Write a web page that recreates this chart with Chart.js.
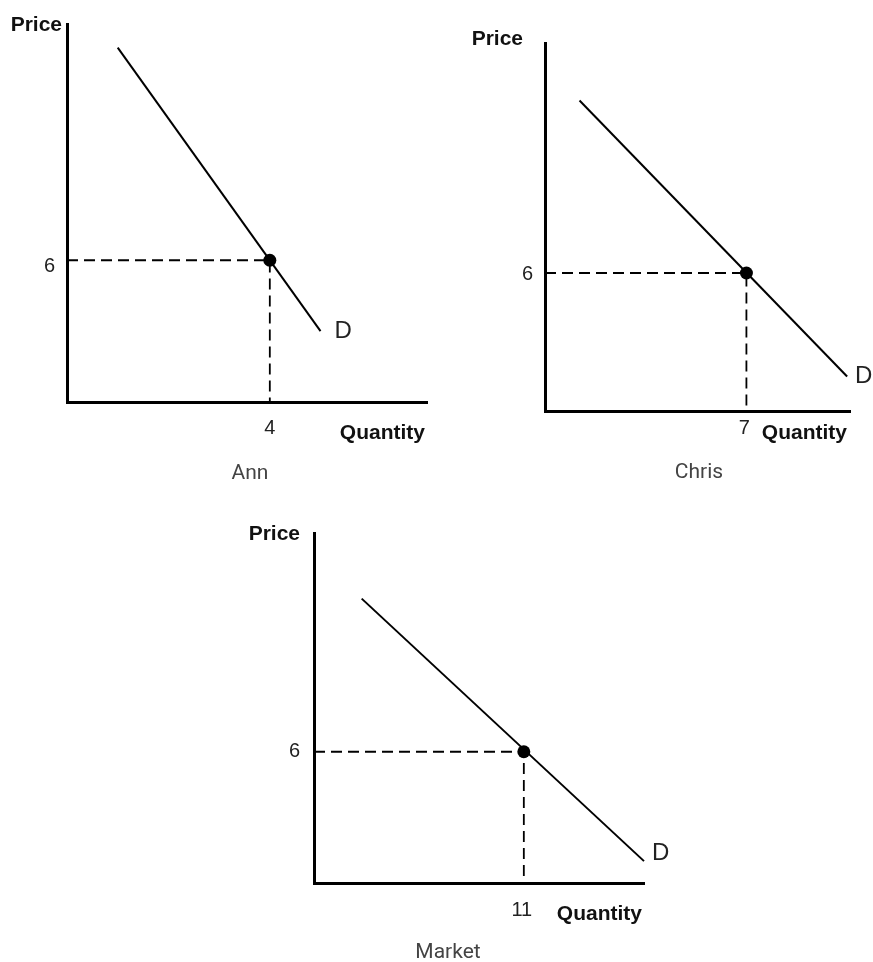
<!DOCTYPE html>
<html>
<head>
<meta charset="utf-8">
<script src="https://cdn.jsdelivr.net/npm/chart.js@4"></script>
<style>
  html, body { margin: 0; padding: 0; background: #fff; }
  #wrap { position: relative; width: 873px; height: 962px; }
  #wrap canvas { position: absolute; left: 0; top: 0; }
</style>
</head>
<body>
<div id="wrap">
  <canvas id="c0" width="873" height="962"></canvas>
  <canvas id="c1" width="873" height="962"></canvas>
  <canvas id="c2" width="873" height="962"></canvas>
</div>
<script>
// data, one entry per panel
const panelNames = ["Ann", "Chris", "Market"];
const demandQty = [[1, 5], [1.2, 10.5], [2.5, 17.3]];
const demandPrice = [[15, 3], [13.5, 1.5], [13, 1]];
const pointQty = [4, 7, 11];
const pointPrice = [6, 6, 6];
const qtyAxisMax = [7.1, 10.6, 17.3];
const priceAxisMax = [16, 16, 16];

// where each panel sits on the page (plot box: left, top, right, bottom)
const W = 873, H = 962;
const Y_AXIS_W = 50, X_AXIS_H = 45;
const layouts = [
  { box: [67, 22, 427, 402], yPad: 12, yOff: 6, xPad: 14, xOff: 0,
    price: [-5, 1], qty: [-2, 31], d: [14, 0], caption: [250, 474] },
  { box: [545, 43, 850, 411], yPad: 12, yOff: 1, xPad: 5, xOff: -2,
    price: [-22, -4], qty: [-3, 22], d: [8, 0], caption: [699, 473] },
  { box: [314, 533, 644, 883], yPad: 14, yOff: 0, xPad: 15, xOff: -2,
    price: [-14, 1], qty: [-2, 31], d: [8, -8], caption: [448, 953] }
];

const tickFont = { family: "'Liberation Sans', Arial, sans-serif", size: 20 };

const panelLabels = {
  id: "panelLabels",
  afterDraw(chart, args, opts) {
    const { ctx, chartArea: a, scales } = chart;
    const L = opts.layout;
    ctx.save();
    ctx.fillStyle = "#111";
    ctx.textBaseline = "middle";
    ctx.font = "bold 21px 'Liberation Sans', Arial, sans-serif";
    ctx.textAlign = "right";
    ctx.fillText("Price", a.left + L.price[0], a.top + L.price[1]);
    ctx.fillText("Quantity", a.right + L.qty[0], a.bottom + L.qty[1]);
    // D sits just past the end of the demand line
    const q = opts.q, p = opts.p;
    ctx.font = "24px 'Liberation Sans', Arial, sans-serif";
    ctx.fillStyle = "#222";
    ctx.textAlign = "left";
    ctx.fillText("D",
      scales.x.getPixelForValue(q[q.length - 1]) + L.d[0],
      scales.y.getPixelForValue(p[p.length - 1]) + L.d[1]);
    ctx.font = "21px Roboto, 'Noto Sans', sans-serif";
    ctx.fillStyle = "#444";
    ctx.textAlign = "center";
    ctx.fillText(opts.caption, L.caption[0], L.caption[1]);
    ctx.restore();
  }
};

function makePanel(i) {
  const L = layouts[i];
  const q0 = pointQty[i], p0 = pointPrice[i];
  const ctx = document.getElementById("c" + i).getContext("2d");
  return new Chart(ctx, {
    type: "scatter",
    plugins: [panelLabels],
    data: {
      datasets: [
        {
          // the marked point
          data: [{ x: q0, y: p0 }],
          pointRadius: 6.5,
          pointBackgroundColor: "#000",
          pointBorderWidth: 0,
          clip: false
        },
        {
          data: demandQty[i].map((q, k) => ({ x: q, y: demandPrice[i][k] })),
          showLine: true,
          borderColor: "#000",
          borderWidth: 2,
          pointRadius: 0,
          clip: false
        },
        {
          // dashed guides to the axes
          data: [{ x: 0, y: p0 }, { x: q0, y: p0 }, { x: q0, y: 0 }],
          showLine: true,
          borderColor: "#000",
          borderWidth: 1.8,
          borderDash: [11, 6],
          pointRadius: 0,
          clip: false
        }
      ]
    },
    options: {
      responsive: false,
      animation: false,
      devicePixelRatio: 1,
      layout: {
        autoPadding: false,
        padding: {
          left: L.box[0] - Y_AXIS_W,
          top: L.box[1],
          right: W - L.box[2],
          bottom: H - L.box[3] - X_AXIS_H
        }
      },
      plugins: {
        legend: { display: false },
        tooltip: { enabled: false },
        panelLabels: { layout: L, q: demandQty[i], p: demandPrice[i], caption: panelNames[i] }
      },
      scales: {
        x: {
          type: "linear",
          min: 0,
          max: qtyAxisMax[i],
          grid: { color: "rgba(0,0,0,0)", drawTicks: false },
          border: { display: true, color: "#000", width: 3 },
          ticks: { font: tickFont, color: "#222", padding: L.xPad, labelOffset: L.xOff,
                   autoSkip: false, maxRotation: 0, callback: v => String(v) },
          afterBuildTicks: s => { s.ticks = [{ value: q0 }]; },
          afterFit: s => { s.height = X_AXIS_H; }
        },
        y: {
          type: "linear",
          min: 0,
          max: priceAxisMax[i],
          grid: { color: "rgba(0,0,0,0)", drawTicks: false },
          border: { display: true, color: "#000", width: 3 },
          ticks: { font: tickFont, color: "#222", padding: L.yPad, labelOffset: L.yOff,
                   autoSkip: false, callback: v => String(v) },
          afterBuildTicks: s => { s.ticks = [{ value: p0 }]; },
          afterFit: s => { s.width = Y_AXIS_W; }
        }
      }
    }
  });
}

panelNames.forEach((n, i) => makePanel(i));
</script>
</body>
</html>
